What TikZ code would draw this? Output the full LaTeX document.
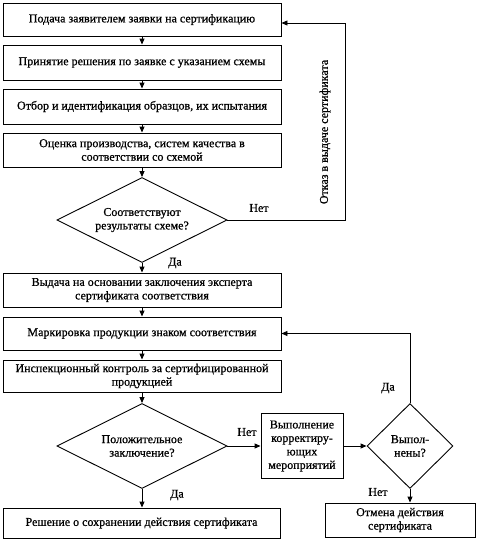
\documentclass[tikz,border=0pt]{standalone}
\usepackage{fontspec}
\setmainfont{Liberation Serif}[BoldFont=Liberation Serif, BoldFeatures={FakeBold=0.8}]
\usetikzlibrary{shapes.geometric,arrows.meta}
\begin{document}
\begin{tikzpicture}[x=1pt,y=-1pt,
  line width=0.9pt,
  every node/.style={font=\fontsize{12}{13.5}\selectfont\bfseries},
  box/.style={draw, rectangle, inner sep=1pt, align=center},
  dia/.style={draw, diamond, inner sep=0pt, align=center},
  arr/.style={-{Triangle[length=6pt,width=5pt]}},
  lbl/.style={inner sep=0pt}
]
\useasboundingbox (0,0) rectangle (481,542);
\node[box, minimum width=278pt, minimum height=33pt] (b1) at (142,19.5) {Подача заявителем заявки на сертификацию};
\node[box, minimum width=278pt, minimum height=35pt] (b2) at (142,62.5) {Принятие решения по заявке с указанием схемы};
\node[box, minimum width=278pt, minimum height=35pt] (b3) at (142,106.5) {Отбор и идентификация образцов, их испытания};
\node[box, minimum width=278pt, minimum height=34pt] (b4) at (142,150) {Оценка производства, систем качества в\\соответствии со схемой};
\node[dia, minimum width=170pt, minimum height=85pt, aspect=2] (d1) at (142,220) {Соответствуют\\результаты схеме?};
\node[box, minimum width=278pt, minimum height=34pt] (b5) at (142,290) {Выдача на основании заключения эксперта\\сертификата соответствия};
\node[box, minimum width=278pt, minimum height=33pt] (b6) at (142,333.5) {Маркировка продукции знаком соответствия};
\node[box, minimum width=278pt, minimum height=32pt] (b7) at (142,376) {Инспекционный контроль за сертифицированной\\продукцией};
\node[dia, minimum width=170pt, minimum height=85pt, aspect=2] (d2) at (142,446) {Положительное\\заключение?};
\node[box, minimum width=82pt, minimum height=65pt] (b8) at (302,446) {Выполнение\\корректиру-\\ющих\\мероприятий};
\node[dia, minimum width=86pt, minimum height=85pt, aspect=1] (d3) at (410,446) {Выпол-\\нены?};
\node[box, minimum width=277pt, minimum height=30pt] (b9) at (141.5,523) {Решение о сохранении действия сертификата};
\node[box, minimum width=150pt, minimum height=34pt] (b10) at (400,520) {Отмена действия\\сертификата};

\coordinate (c1) at (345,220);
\coordinate (c2) at (345,23);

\draw[arr] (b1) -- (b2);
\draw[arr] (b2) -- (b3);
\draw[arr] (b3) -- (b4);
\draw[arr] (b4) -- (d1);
\draw[arr] (d1) -- (b5);
\draw[arr] (b5) -- (b6);
\draw[arr] (b6) -- (b7);
\draw[arr] (b7) -- (d2);
\draw[arr] (d2.south) -- (d2.south |- b9.north);
\draw[arr] (d2) -- (b8);
\draw[arr] (b8) -- (d3);
\draw[arr] (d3.south) -- (d3.south |- b10.north);
\draw[arr] (d1.east) -- (c1) -- (c2) -- (b1.east |- c2);
\draw[arr] (d3.north) -- (d3.north |- b6.east) -- (b6.east);

\node[lbl, rotate=90] (t1) at (325,132) {Отказ в выдаче сертификата};
\node[lbl] (l1) at (259,208) {Нет};
\node[lbl] (l2) at (175,263) {Да};
\node[lbl] (l3) at (247,432) {Нет};
\node[lbl] (l4) at (177,495) {Да};
\node[lbl] (l5) at (388,388) {Да};
\node[lbl] (l6) at (378,492) {Нет};
\end{tikzpicture}
\end{document}
